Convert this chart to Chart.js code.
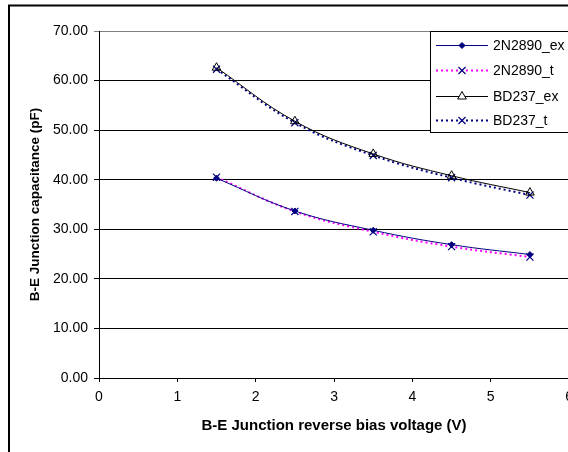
<!DOCTYPE html>
<html>
<head>
<meta charset="utf-8">
<script src="https://cdn.jsdelivr.net/npm/chart.js@4/dist/chart.umd.min.js"></script>
<style>
  body { margin: 0; background: #fff; overflow: hidden; }
  #wrap { width: 568px; height: 452px; overflow: hidden; }
</style>
</head>
<body>
<div id="wrap"><canvas id="capChart" width="580" height="452"></canvas></div>
<script>
// bias voltage (V)
const voltage = [1.5, 2.5, 3.5, 4.5, 5.5];
// B-E junction capacitance (pF)
const n2890Ex = [40.3, 33.7, 29.8, 26.9, 24.9];
const n2890T  = [40.5, 33.6, 29.5, 26.5, 24.4];
const bd237Ex = [62.6, 51.8, 45.2, 40.8, 37.4];
const bd237T  = [62.3, 51.5, 44.9, 40.4, 36.9];
const seriesNames = ['2N2890_ex', '2N2890_t', 'BD237_ex', 'BD237_t'];

const xTicks = [0, 1, 2, 3, 4, 5, 6];
const yTicks = [0, 10, 20, 30, 40, 50, 60, 70];

function pts(vals) {
    return vals.map((v, i) => ({ x: voltage[i], y: v }));
}

const FONT = "'Liberation Sans', Arial, sans-serif";

// Excel-like legend box and outer frame
const legendBox = {
    id: 'legendBox',
    afterDraw(chart) {
        const ctx = chart.ctx;
        ctx.save();
        // outer chart border
        ctx.strokeStyle = '#000';
        ctx.lineWidth = 2;
        ctx.strokeRect(9, 5.5, 700, 600);

        // legend
        ctx.fillStyle = '#fff';
        ctx.fillRect(431, 32, 200, 100);
        ctx.lineWidth = 1;
        ctx.strokeRect(430.5, 31.5, 200, 101);
        ctx.font = '14px ' + FONT;
        ctx.textBaseline = 'middle';
        ctx.textAlign = 'left';
        const rows = [45, 70, 96, 120];
        chart.data.datasets.forEach((ds, i) => {
            const y = rows[i];
            ctx.strokeStyle = ds.borderColor;
            ctx.lineWidth = ds.borderWidth;
            ctx.setLineDash(ds.borderDash || []);
            ctx.beginPath();
            ctx.moveTo(436, y + 0.5);
            ctx.lineTo(488, y + 0.5);
            ctx.stroke();
            ctx.setLineDash([]);
            ctx.fillStyle = ds.pointStyle === 'triangle' ? '#fff' : ds.pointBackgroundColor;
            ctx.strokeStyle = ds.pointBorderColor;
            ctx.lineWidth = ds.pointBorderWidth || 1;
            Chart.helpers.drawPoint(ctx, {
                pointStyle: ds.pointStyle,
                radius: ds.pointRadius,
                rotation: 0,
                borderWidth: ds.pointBorderWidth || 1
            }, 462, y + 0.5);
            ctx.fillStyle = '#000';
            ctx.fillText(ds.label, 493, y + 1);
        });
        ctx.restore();
    }
};

const ctx = document.getElementById('capChart').getContext('2d');
const capChart = new Chart(ctx, {
    type: 'scatter',
    data: {
        datasets: [
            {
                label: seriesNames[0],
                data: pts(n2890Ex),
                showLine: true,
                borderColor: '#000080',
                borderWidth: 1,
                pointStyle: 'rectRot',
                pointRadius: 3,
                pointBackgroundColor: '#000080',
                pointBorderColor: '#000080',
                pointBorderWidth: 1,
                tension: 0.4
            },
            {
                label: seriesNames[1],
                data: pts(n2890T),
                showLine: true,
                borderColor: '#ff00ff',
                borderWidth: 2,
                borderDash: [2, 3],
                pointStyle: 'crossRot',
                pointRadius: 5,
                pointBorderColor: '#000080',
                pointBackgroundColor: '#000080',
                pointBorderWidth: 1.2,
                tension: 0.4
            },
            {
                label: seriesNames[2],
                data: pts(bd237Ex),
                showLine: true,
                borderColor: '#000000',
                borderWidth: 1,
                pointStyle: 'triangle',
                pointRadius: 5,
                pointBackgroundColor: 'rgba(255,255,255,0)',
                pointBorderColor: '#000000',
                pointBorderWidth: 1,
                tension: 0.4
            },
            {
                label: seriesNames[3],
                data: pts(bd237T),
                showLine: true,
                borderColor: '#000080',
                borderWidth: 2,
                borderDash: [2, 3],
                pointStyle: 'crossRot',
                pointRadius: 5,
                pointBorderColor: '#000080',
                pointBackgroundColor: '#000080',
                pointBorderWidth: 1.2,
                tension: 0.4
            }
        ]
    },
    options: {
        responsive: false,
        animation: false,
        layout: { padding: { top: 31, right: 10, bottom: 0, left: 0 } },
        plugins: {
            legend: { display: false },
            tooltip: { enabled: false }
        },
        scales: {
            x: {
                type: 'linear',
                min: xTicks[0],
                max: xTicks[xTicks.length - 1],
                afterBuildTicks: s => { s.ticks = xTicks.map(v => ({ value: v })); },
                afterFit: s => { s.height = 74; },
                grid: { drawOnChartArea: false, drawTicks: true, tickLength: 4, color: '#000' },
                border: { display: true, color: '#000', width: 1 },
                ticks: { color: '#000', font: { family: FONT, size: 14 }, padding: 7, maxRotation: 0 },
                title: {
                    display: true,
                    text: 'B-E Junction reverse bias voltage (V)',
                    color: '#000',
                    font: { family: FONT, size: 15, weight: 'bold' },
                    padding: { top: 0, bottom: 17 }
                }
            },
            y: {
                min: yTicks[0],
                max: yTicks[yTicks.length - 1],
                afterBuildTicks: s => { s.ticks = yTicks.map(v => ({ value: v })); },
                afterFit: s => { s.width = 99; },
                grid: {
                    drawTicks: true,
                    tickLength: 5,
                    color: c => (c.tick && c.tick.value === 70 ? '#808080' : '#000')
                },
                border: { display: true, color: '#000', width: 1 },
                ticks: {
                    color: '#000',
                    font: { family: FONT, size: 14 },
                    padding: 6,
                    callback: v => v.toFixed(2)
                },
                title: {
                    display: true,
                    text: 'B-E Junction capacitance (pF)',
                    color: '#000',
                    font: { family: FONT, size: 13.5, weight: 'bold' },
                    padding: { top: 27, bottom: 0 }
                }
            }
        }
    },
    plugins: [legendBox]
});
</script>
</body>
</html>
